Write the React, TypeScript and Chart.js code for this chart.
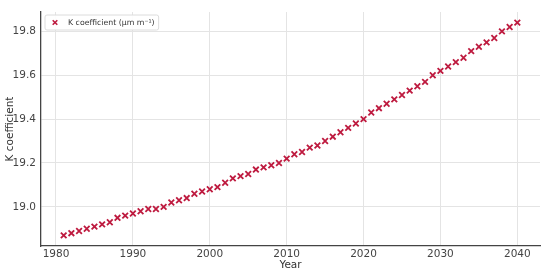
import React, { useEffect, useRef } from "react";
import { Chart, registerables } from "chart.js";

Chart.register(...registerables);

const years: number[] = [
  1981, 1982, 1983, 1984, 1985, 1986, 1987, 1988, 1989, 1990,
  1991, 1992, 1993, 1994, 1995, 1996, 1997, 1998, 1999, 2000,
  2001, 2002, 2003, 2004, 2005, 2006, 2007, 2008, 2009, 2010,
  2011, 2012, 2013, 2014, 2015, 2016, 2017, 2018, 2019, 2020,
  2021, 2022, 2023, 2024, 2025, 2026, 2027, 2028, 2029, 2030,
  2031, 2032, 2033, 2034, 2035, 2036, 2037, 2038, 2039, 2040,
];

const kValues: number[] = [
  18.87, 18.88, 18.89, 18.9, 18.91, 18.92, 18.93, 18.95, 18.96, 18.97,
  18.98, 18.99, 18.99, 19.0, 19.02, 19.03, 19.04, 19.06, 19.07, 19.08,
  19.09, 19.11, 19.13, 19.14, 19.15, 19.17, 19.18, 19.19, 19.2, 19.22,
  19.24, 19.25, 19.27, 19.28, 19.3, 19.32, 19.34, 19.36, 19.38, 19.4,
  19.43, 19.45, 19.47, 19.49, 19.51, 19.53, 19.55, 19.57, 19.6, 19.62,
  19.64, 19.66, 19.68, 19.71, 19.73, 19.75, 19.77, 19.8, 19.82, 19.84,
];

const xTicks: number[] = [1980, 1990, 2000, 2010, 2020, 2030, 2040];
const yTicks: number[] = [19.0, 19.2, 19.4, 19.6, 19.8];

const seriesLabel = "K coefficient (µm m⁻¹)";
const xTitle = "Year";
const yTitle = "K coefficient";

const markerColor = "#be1a3f";
const FONT = "'DejaVu Sans', sans-serif";

const legendPlugin = {
  id: "insideLegend",
  afterDraw(chart: any) {
    const ctx = chart.ctx;
    const area = chart.chartArea;
    const ds = chart.data.datasets[0];
    ctx.save();
    ctx.font = `7.8px ${FONT}`;
    const textW = ctx.measureText(ds.label).width;
    const x0 = area.left + 4;
    const y0 = area.top + 3;
    const w = 23 + textW + 4;
    const h = 15;
    const r = 2;
    ctx.beginPath();
    ctx.moveTo(x0 + r, y0);
    ctx.lineTo(x0 + w - r, y0);
    ctx.quadraticCurveTo(x0 + w, y0, x0 + w, y0 + r);
    ctx.lineTo(x0 + w, y0 + h - r);
    ctx.quadraticCurveTo(x0 + w, y0 + h, x0 + w - r, y0 + h);
    ctx.lineTo(x0 + r, y0 + h);
    ctx.quadraticCurveTo(x0, y0 + h, x0, y0 + h - r);
    ctx.lineTo(x0, y0 + r);
    ctx.quadraticCurveTo(x0, y0, x0 + r, y0);
    ctx.closePath();
    ctx.fillStyle = "rgba(255,255,255,0.9)";
    ctx.fill();
    ctx.strokeStyle = "#dcdcdc";
    ctx.lineWidth = 1;
    ctx.stroke();
    const mx = x0 + 10;
    const my = y0 + h / 2;
    const s = 2.3;
    ctx.strokeStyle = ds.borderColor;
    ctx.lineWidth = 1.6;
    ctx.beginPath();
    ctx.moveTo(mx - s, my - s);
    ctx.lineTo(mx + s, my + s);
    ctx.moveTo(mx - s, my + s);
    ctx.lineTo(mx + s, my - s);
    ctx.stroke();
    ctx.fillStyle = "#333";
    ctx.textBaseline = "middle";
    ctx.textAlign = "left";
    ctx.fillText(ds.label, x0 + 23, my);
    ctx.restore();
  },
};

export default function App() {
  const ref = useRef<HTMLCanvasElement | null>(null);

  useEffect(() => {
    document.body.style.margin = "0";
    const canvas = ref.current;
    if (!canvas) return;
    const chart = new Chart(canvas, {
      type: "scatter",
      data: {
        datasets: [
          {
            label: seriesLabel,
            data: years.map((y, i) => ({ x: y, y: kValues[i] })),
            pointStyle: "crossRot",
            pointRadius: 4,
            pointHoverRadius: 4,
            borderColor: markerColor,
            backgroundColor: markerColor,
            pointBorderWidth: 1.8,
          },
        ],
      },
      options: {
        responsive: false,
        animation: false,
        devicePixelRatio: 1,
        layout: { padding: { top: 12, right: 10, left: 0, bottom: 0 } },
        plugins: {
          legend: { display: false },
          tooltip: { enabled: false },
        },
        scales: {
          x: {
            type: "linear",
            min: 1978.05,
            max: 2042.95,
            afterBuildTicks: (scale: any) => {
              scale.ticks = xTicks.map((v) => ({ value: v }));
            },
            afterFit: (scale: any) => {
              scale.height = 34;
            },
            grid: { color: "#e4e4e4", lineWidth: 1, drawTicks: false },
            border: { display: true, color: "#444", width: 1.3 },
            ticks: {
              color: "#444",
              font: { family: FONT, size: 10.5 },
              padding: 2,
              maxRotation: 0,
              callback: (v: any) => String(v),
            },
            title: {
              display: true,
              text: xTitle,
              color: "#333",
              font: { family: FONT, size: 10.5 },
              padding: { top: 0, bottom: 8 },
            },
          },
          y: {
            type: "linear",
            min: 18.8215,
            max: 19.8885,
            afterBuildTicks: (scale: any) => {
              scale.ticks = yTicks.map((v) => ({ value: v }));
            },
            afterFit: (scale: any) => {
              scale.width = 41;
            },
            grid: { color: "#e4e4e4", lineWidth: 1, drawTicks: false },
            border: { display: true, color: "#444", width: 1.3 },
            ticks: {
              color: "#444",
              font: { family: FONT, size: 10.5 },
              padding: 5,
              callback: (v: any) => Number(v).toFixed(1),
            },
            title: {
              display: true,
              text: yTitle,
              color: "#333",
              font: { family: FONT, size: 10.5 },
              padding: { top: 4, bottom: 2 },
            },
          },
        },
      },
      plugins: [legendPlugin],
    });
    return () => chart.destroy();
  }, []);

  return (
    <div style={{ width: 550, height: 280, background: "#fff" }}>
      <canvas ref={ref} width={550} height={280} style={{ display: "block" }} />
    </div>
  );
}
